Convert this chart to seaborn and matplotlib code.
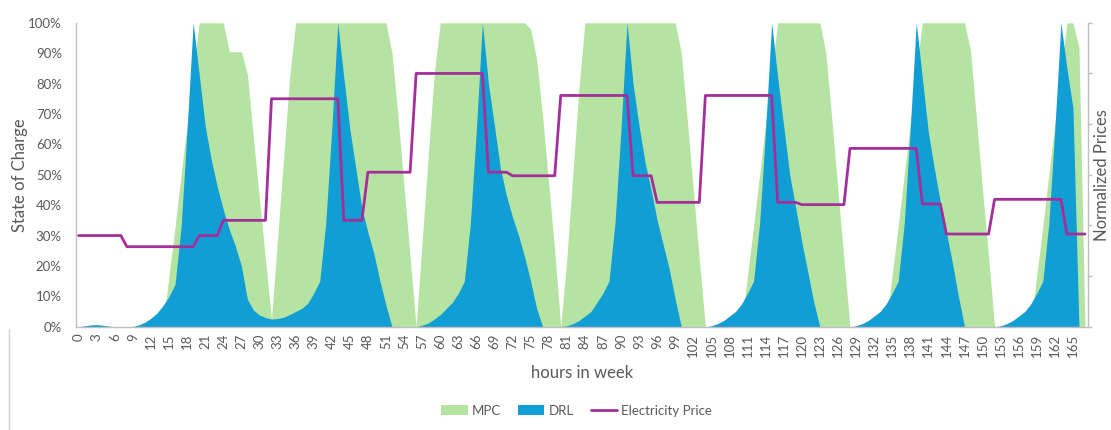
import numpy as np
import matplotlib
matplotlib.use("Agg")
import matplotlib.pyplot as plt
import seaborn as sns
from matplotlib.patches import Patch
from matplotlib.lines import Line2D

# hours 0..167
hours = list(range(168))

# state of charge, MPC controller (fraction of capacity)
mpc = [
    0, 0, 0, 0, 0, 0, 0, 0, 0, 0, 0, 0,
    0, 0, 0, 0.17, 0.33, 0.5, 0.67, 0.84, 1.0, 1.0, 1.0, 1.0,
    1.0, 0.905, 0.905, 0.905, 0.83, 0.62, 0.42, 0.22, 0.025, 0.29, 0.55, 0.82,
    1.0, 1.0, 1.0, 1.0, 1.0, 1.0, 1.0, 1.0, 1.0, 1.0, 1.0, 1.0,
    1.0, 1.0, 1.0, 1.0, 0.9, 0.69, 0.46, 0.23, 0.0, 0.28, 0.56, 0.83,
    1.0, 1.0, 1.0, 1.0, 1.0, 1.0, 1.0, 1.0, 1.0, 1.0, 1.0, 1.0,
    1.0, 1.0, 1.0, 0.98, 0.88, 0.69, 0.47, 0.25, 0.0, 0.22, 0.5, 0.78,
    1.0, 1.0, 1.0, 1.0, 1.0, 1.0, 1.0, 1.0, 1.0, 1.0, 1.0, 1.0,
    1.0, 1.0, 1.0, 1.0, 0.9, 0.68, 0.45, 0.22, 0.0, 0, 0, 0,
    0, 0, 0, 0.17, 0.33, 0.5, 0.67, 0.84, 1.0, 1.0, 1.0, 1.0,
    1.0, 1.0, 1.0, 1.0, 0.9, 0.68, 0.45, 0.22, 0.0, 0, 0, 0,
    0, 0, 0, 0.17, 0.33, 0.5, 0.67, 0.84, 1.0, 1.0, 1.0, 1.0,
    1.0, 1.0, 1.0, 1.0, 0.91, 0.68, 0.45, 0.23, 0.0, 0, 0, 0,
    0, 0, 0, 0.17, 0.33, 0.5, 0.67, 0.84, 1.0, 1.0, 0.92, 0.0,
]

# state of charge, DRL agent
drl = [
    0, 0.003, 0.006, 0.007, 0.005, 0.002, 0, 0, 0, 0.001, 0.006, 0.015,
    0.028, 0.045, 0.07, 0.1, 0.14, 0.33, 0.65, 1.0, 0.83, 0.66, 0.55, 0.46,
    0.385, 0.32, 0.265, 0.2, 0.09, 0.055, 0.038, 0.03, 0.025, 0.027, 0.031, 0.04,
    0.05, 0.06, 0.077, 0.11, 0.15, 0.34, 0.65, 1.0, 0.82, 0.65, 0.52, 0.39,
    0.31, 0.24, 0.15, 0.07, 0.0, 0, 0, 0, 0, 0.005, 0.012, 0.025,
    0.04, 0.06, 0.08, 0.11, 0.15, 0.34, 0.65, 1.0, 0.8, 0.66, 0.52, 0.43,
    0.36, 0.3, 0.23, 0.15, 0.06, 0.0, 0, 0, 0, 0.003, 0.01, 0.02,
    0.035, 0.05, 0.08, 0.11, 0.15, 0.34, 0.65, 1.0, 0.8, 0.66, 0.54, 0.45,
    0.35, 0.27, 0.19, 0.09, 0.0, 0, 0, 0, 0, 0.003, 0.01, 0.02,
    0.035, 0.05, 0.075, 0.11, 0.15, 0.34, 0.65, 1.0, 0.82, 0.66, 0.5, 0.39,
    0.28, 0.18, 0.08, 0.0, 0, 0, 0, 0, 0, 0.003, 0.01, 0.02,
    0.035, 0.05, 0.075, 0.11, 0.15, 0.34, 0.65, 1.0, 0.82, 0.64, 0.52, 0.41,
    0.31, 0.21, 0.1, 0.0, 0, 0, 0, 0, 0, 0.003, 0.01, 0.02,
    0.035, 0.05, 0.075, 0.11, 0.15, 0.34, 0.65, 1.0, 0.85, 0.72, 0.0, 0.0,
]

# normalized electricity price
price = [
    0.36, 0.36, 0.36, 0.36, 0.36, 0.36, 0.36, 0.36, 0.316, 0.316, 0.316, 0.316,
    0.316, 0.316, 0.316, 0.316, 0.316, 0.316, 0.316, 0.316, 0.36, 0.36, 0.36, 0.36,
    0.42, 0.42, 0.42, 0.42, 0.42, 0.42, 0.42, 0.42, 0.9, 0.9, 0.9, 0.9,
    0.9, 0.9, 0.9, 0.9, 0.9, 0.9, 0.9, 0.9, 0.42, 0.42, 0.42, 0.42,
    0.61, 0.61, 0.61, 0.61, 0.61, 0.61, 0.61, 0.61, 1.0, 1.0, 1.0, 1.0,
    1.0, 1.0, 1.0, 1.0, 1.0, 1.0, 1.0, 1.0, 0.61, 0.61, 0.61, 0.61,
    0.596, 0.596, 0.596, 0.596, 0.596, 0.596, 0.596, 0.596, 0.913, 0.913, 0.913, 0.913,
    0.913, 0.913, 0.913, 0.913, 0.913, 0.913, 0.913, 0.913, 0.596, 0.596, 0.596, 0.596,
    0.491, 0.491, 0.491, 0.491, 0.491, 0.491, 0.491, 0.491, 0.913, 0.913, 0.913, 0.913,
    0.913, 0.913, 0.913, 0.913, 0.913, 0.913, 0.913, 0.913, 0.491, 0.491, 0.491, 0.491,
    0.482, 0.482, 0.482, 0.482, 0.482, 0.482, 0.482, 0.482, 0.704, 0.704, 0.704, 0.704,
    0.704, 0.704, 0.704, 0.704, 0.704, 0.704, 0.704, 0.704, 0.485, 0.485, 0.485, 0.485,
    0.366, 0.366, 0.366, 0.366, 0.366, 0.366, 0.366, 0.366, 0.503, 0.503, 0.503, 0.503,
    0.503, 0.503, 0.503, 0.503, 0.503, 0.503, 0.503, 0.503, 0.366, 0.366, 0.366, 0.366,
]

x_ticks = list(range(0, 166, 3))

green = "#B5E4A2"
blue = "#119ED5"
purple = "#A42F9B"
txt = "#595959"
axis_clr = "#BFBFBF"

sns.set_theme(style="white")
plt.rcParams["font.family"] = ["Lato", "DejaVu Sans"]

fig = plt.figure(figsize=(11.11, 4.30), dpi=100)
ax = fig.add_axes([0.0681, 0.2402, 0.9793 - 0.0681, 0.947 - 0.2402])

ax.fill_between(hours, mpc, 0, color=green, linewidth=0, label="MPC")
ax.fill_between(hours, drl, 0, color=blue, linewidth=0, label="DRL")

ax.set_xlim(-0.5, 167.5)
ax.set_ylim(0, 1.0)
ax.set_yticks(np.arange(0, 1.01, 0.1))
ax.set_yticklabels([f"{int(round(v * 100))}%" for v in np.arange(0, 1.01, 0.1)])
ax.set_xticks(x_ticks)
ax.set_xticklabels([str(t) for t in x_ticks], rotation=90)
ax.tick_params(axis="both", length=0, colors=txt, labelsize=9.5)
ax.tick_params(axis="y", pad=10)
ax.tick_params(axis="x", pad=5)
ax.set_ylabel("State of Charge", color=txt, fontsize=12)
ax.yaxis.set_label_coords(-0.047, 0.5)
ax.set_xlabel("hours in week", color=txt, fontsize=12, labelpad=6)
for s in ["top", "right"]:
    ax.spines[s].set_visible(False)
for s in ["left", "bottom"]:
    ax.spines[s].set_color(axis_clr)
    ax.spines[s].set_linewidth(1)

ax2 = ax.twinx()
sns.lineplot(x=hours, y=price, ax=ax2, color=purple, linewidth=2.0, legend=False)
ax2.set_ylim(0, 1.2)
ax2.set_yticks(np.arange(0, 1.21, 0.2))
ax2.set_yticklabels([])
ax2.tick_params(axis="y", direction="out", length=3, color=axis_clr, width=1, pad=0)
ax2.set_ylabel("Normalized Prices", color=txt, fontsize=12, labelpad=1)
for s in ["top", "left", "bottom"]:
    ax2.spines[s].set_visible(False)
ax2.spines["right"].set_color(axis_clr)
ax2.spines["right"].set_linewidth(1)
ax2.set_xlim(-0.5, 167.5)

handles = [
    Patch(facecolor=green, edgecolor="none", label="MPC"),
    Patch(facecolor=blue, edgecolor="none", label="DRL"),
    Line2D([0], [0], color=purple, linewidth=2.0, label="Electricity Price"),
]
fig.legend(handles=handles, loc="center", bbox_to_anchor=(0.519, 0.045), ncol=3,
           frameon=False, fontsize=9.5, labelcolor=txt, handlelength=2.0,
           handleheight=0.7, columnspacing=1.3, handletextpad=0.3)

# outer chart border remnant on the left edge
fig.add_artist(Line2D([0.008, 0.008], [0.0, 0.235], color="#D0D0D0", linewidth=1,
                      transform=fig.transFigure))

fig.savefig("out.png", dpi=100)
